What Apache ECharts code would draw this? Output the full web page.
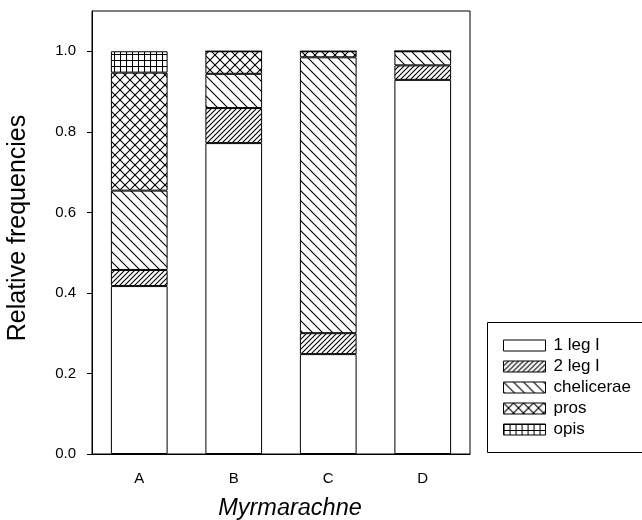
<!DOCTYPE html>
<html>
<head>
<meta charset="utf-8">
<script src="https://cdn.jsdelivr.net/npm/echarts@6/dist/echarts.min.js"></script>
<style>
html,body{margin:0;padding:0;background:#fff;}
#chart{width:642px;height:520px;}
</style>
</head>
<body>
<div id="chart"></div>
<script>
// ---- data ----
const categories = ['A', 'B', 'C', 'D'];
const seriesNames = ['1 leg I', '2 leg I', 'chelicerae', 'pros', 'opis'];
const leg1 = [0.417, 0.772, 0.248, 0.929];
const leg2 = [0.040, 0.087, 0.052, 0.036];
const chelicerae = [0.197, 0.085, 0.685, 0.035];
const pros = [0.293, 0.056, 0.015, 0];
const opis = [0.053, 0, 0, 0];
const yTicks = [0, 0.2, 0.4, 0.6, 0.8, 1.0];

// ---- fill patterns ----
function makePattern(size, draw) {
  const c = document.createElement('canvas');
  c.width = size; c.height = size;
  const g = c.getContext('2d');
  g.fillStyle = '#fff';
  g.fillRect(0, 0, size, size);
  g.strokeStyle = '#000';
  g.lineWidth = 1.1;
  draw(g, size);
  return { image: c, repeat: 'repeat' };
}
function fwd(g, s) { // '/'
  g.beginPath();
  g.moveTo(-1, s + 1); g.lineTo(s + 1, -1);
  g.moveTo(-1, 1); g.lineTo(1, -1);
  g.moveTo(s - 1, s + 1); g.lineTo(s + 1, s - 1);
  g.stroke();
}
function back(g, s) { // '\'
  g.beginPath();
  g.moveTo(-1, -1); g.lineTo(s + 1, s + 1);
  g.moveTo(s - 1, -1); g.lineTo(s + 1, 1);
  g.moveTo(-1, s - 1); g.lineTo(1, s + 1);
  g.stroke();
}
const fills = [
  '#ffffff',
  makePattern(5, fwd),
  makePattern(10, back),
  makePattern(10, function (g, s) { fwd(g, s); back(g, s); }),
  makePattern(6, function (g, s) {
    g.beginPath();
    g.moveTo(0.5, 0); g.lineTo(0.5, s);
    g.moveTo(0, 0.5); g.lineTo(s, 0.5);
    g.stroke();
  })
];

const allData = [leg1, leg2, chelicerae, pros, opis];
const FONT = 'Liberation Sans, Arial, sans-serif';

const chart = echarts.init(document.getElementById('chart'), null, { renderer: 'canvas' });
chart.setOption({
  animation: false,
  backgroundColor: '#fff',
  grid: {
    left: 92, right: 172, top: 11, bottom: 66,
    show: true, borderColor: '#000', borderWidth: 1, backgroundColor: 'transparent'
  },
  legend: {
    orient: 'vertical',
    left: 498, top: 332,
    icon: 'rect',
    itemWidth: 42, itemHeight: 11, itemGap: 4,
    data: seriesNames,
    textStyle: { fontFamily: FONT, fontSize: 17, color: '#000', lineHeight: 17, padding: [0, 0, 0, 3] },
    itemStyle: { borderColor: '#000', borderWidth: 1 }
  },
  xAxis: {
    type: 'category',
    data: categories,
    axisLine: { lineStyle: { color: '#000', width: 1 } },
    axisTick: { alignWithLabel: true, length: 5, lineStyle: { color: '#000' } },
    axisLabel: { fontFamily: FONT, fontSize: 15, color: '#000', margin: 17 },
    splitLine: { show: false }
  },
  yAxis: {
    type: 'value',
    min: 0, max: 1.1,
    axisLine: { show: true, lineStyle: { color: '#000', width: 1 } },
    axisTick: { show: true, length: 5, lineStyle: { color: '#000' }, customValues: yTicks },
    axisLabel: {
      fontFamily: FONT, fontSize: 15, color: '#000', margin: 16,
      customValues: yTicks,
      formatter: function (v) { return v.toFixed(1); }
    },
    splitLine: { show: false }
  },
  graphic: [
    {
      type: 'rect', silent: true,
      shape: { x: 487.5, y: 322.5, width: 200, height: 130 },
      style: { fill: 'none', stroke: '#000', lineWidth: 1 }
    },
    {
      type: 'text', silent: true,
      x: 18, y: 228, rotation: Math.PI / 2,
      style: { text: 'Relative frequencies', fontFamily: FONT, fontSize: 25, fill: '#000', align: 'center', verticalAlign: 'middle' }
    },
    {
      type: 'text', silent: true,
      x: 290, y: 508,
      style: { text: 'Myrmarachne', fontFamily: FONT, fontSize: 23.5, fontStyle: 'italic', fill: '#000', align: 'center', verticalAlign: 'middle' }
    }
  ],
  series: seriesNames.map(function (name, i) {
    return {
      name: name,
      type: 'bar',
      stack: 'total',
      barWidth: '60%',
      data: allData[i],
      itemStyle: { color: fills[i], borderColor: '#000', borderWidth: 1 }
    };
  })
});
</script>
</body>
</html>
